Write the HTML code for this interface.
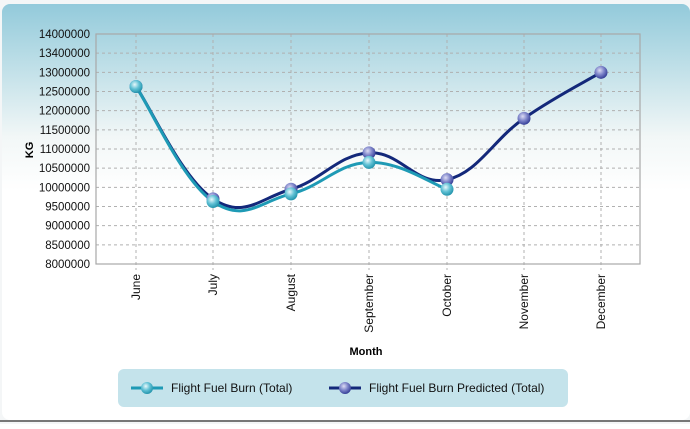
<!DOCTYPE html>
<html><head><meta charset="utf-8"><style>
body{margin:0;width:690px;height:424px;overflow:hidden;background:#fff;font-family:"Liberation Sans",sans-serif}
</style></head><body>
<svg id="s" width="690" height="424" xmlns="http://www.w3.org/2000/svg" font-family="Liberation Sans, sans-serif">
<defs>
<linearGradient id="bg" x1="0" y1="0" x2="0" y2="1">
<stop offset="0" stop-color="#93cadb"/><stop offset="0.12" stop-color="#b6dbe5"/><stop offset="0.32" stop-color="#f2f7f7"/><stop offset="0.45" stop-color="#ffffff"/><stop offset="1" stop-color="#ffffff"/>
</linearGradient>
<radialGradient id="b1" cx="0.4" cy="0.35" r="0.7"><stop offset="0" stop-color="#e8f8fb"/><stop offset="0.5" stop-color="#5fc0d4"/><stop offset="1" stop-color="#1b8ea6"/></radialGradient>
<radialGradient id="b2" cx="0.4" cy="0.35" r="0.7"><stop offset="0" stop-color="#dcdcf4"/><stop offset="0.5" stop-color="#7b82c8"/><stop offset="1" stop-color="#2b3590"/></radialGradient>
</defs>
<rect x="0" y="0" width="690" height="424" fill="#f4f6f7"/>
<rect x="2" y="4" width="688" height="416" rx="8" fill="url(#bg)"/>
<line x1="0" y1="421" x2="690" y2="421" stroke="#777" stroke-width="2"/>
<g id="grid"></g>
<rect x="96" y="34" width="544" height="230" fill="none" stroke="#a8a8a8" stroke-width="1.2"/>
<text x="33" y="150" font-size="11" font-weight="bold" transform="rotate(-90 33 150)" text-anchor="middle">KG</text>
<text x="366" y="355" font-size="11" font-weight="bold" text-anchor="middle">Month</text>
<g id="series"></g>
<rect x="118" y="369" width="450" height="38" rx="6" fill="#c4e3eb"/>
<line x1="131" y1="388" x2="163" y2="388" stroke="#1e9ab5" stroke-width="3"/>
<circle cx="147" cy="388" r="6" fill="url(#b1)"/>
<text x="171" y="392" font-size="12" fill="#111">Flight Fuel Burn (Total)</text>
<line x1="329" y1="388" x2="361" y2="388" stroke="#13287a" stroke-width="3"/>
<circle cx="345" cy="388" r="6" fill="url(#b2)"/>
<text x="369" y="392" font-size="12" fill="#111">Flight Fuel Burn Predicted (Total)</text>
</svg>
<script>
var NS="http://www.w3.org/2000/svg";
function el(t,a,p,txt){var e=document.createElementNS(NS,t);for(var k in a)e.setAttribute(k,a[k]);if(txt!=null)e.textContent=txt;p.appendChild(e);return e;}
var g=document.getElementById('grid'),s=document.getElementById('series');
var labels=["14000000","13400000","13000000","12500000","12000000","11500000","11000000","10500000","10000000","9500000","9000000","8500000","8000000"];
var step=230/12;
for(var i=0;i<13;i++){var y=34+i*step;
 if(i>0&&i<12)el('line',{x1:96,x2:640,y1:y,y2:y,stroke:'#b0b0b0','stroke-dasharray':'3,3','stroke-width':1},g);
 el('text',{x:90,y:y+4,'font-size':11.5,'text-anchor':'end',fill:'#111'},g,labels[i]);}
var xs=[136,213,291,369,447,524,601],months=["June","July","August","September","October","November","December"];
for(var i=0;i<7;i++){el('line',{x1:xs[i],x2:xs[i],y1:34,y2:270,stroke:'#b0b0b0','stroke-dasharray':'3,3','stroke-width':1},g);
 el('text',{x:xs[i]+4,y:274,'font-size':12,'text-anchor':'end',fill:'#111',transform:'rotate(-90 '+(xs[i]+4)+' 274)'},g,months[i]);}
function Y(v){return 264-(v-8e6)/5e5*step;}
function path(pts){var d='M'+pts[0][0]+','+pts[0][1];for(var i=0;i<pts.length-1;i++){var p0=pts[i-1]||pts[i],p1=pts[i],p2=pts[i+1],p3=pts[i+2]||p2;var t=0.2;
 d+=' C'+(p1[0]+(p2[0]-p0[0])*t)+','+(p1[1]+(p2[1]-p0[1])*t)+' '+(p2[0]-(p3[0]-p1[0])*t)+','+(p2[1]-(p3[1]-p1[1])*t)+' '+p2[0]+','+p2[1];}return d;}
var pr=[12630000,9700000,9950000,10900000,10200000,11800000,13000000].map(function(v,i){return [xs[i],Y(v)]});
var ac=[12630000,9630000,9830000,10650000,9950000].map(function(v,i){return [xs[i],Y(v)]});
el('path',{d:path(pr),fill:'none',stroke:'#13287a','stroke-width':3},s);
el('path',{d:path(ac),fill:'none',stroke:'#1e9ab5','stroke-width':3},s);
pr.forEach(function(p){el('circle',{cx:p[0],cy:p[1],r:6.5,fill:'url(#b2)'},s)});
ac.forEach(function(p){el('circle',{cx:p[0],cy:p[1],r:6.5,fill:'url(#b1)'},s)});
</script>
</body></html>
